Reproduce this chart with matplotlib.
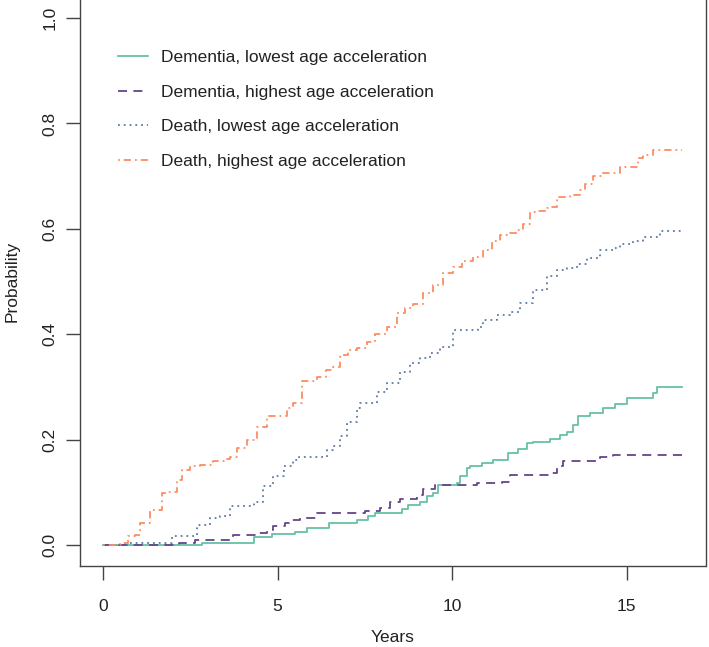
import matplotlib
matplotlib.use("Agg")
import matplotlib.pyplot as plt

#===============================================================================
# data (cumulative probability, step functions)
labels = ["Dementia, lowest age acceleration",
          "Dementia, highest age acceleration",
          "Death, lowest age acceleration",
          "Death, highest age acceleration"]

dem_low_t = [0, 2.83, 4.31, 4.83, 5.50, 5.84, 6.46, 7.27, 7.60, 7.79, 8.56, 8.75,
             9.08, 9.27, 9.46, 9.61, 10.13, 10.23, 10.42, 10.52, 10.85, 11.18, 11.61,
             11.90, 12.14, 12.33, 12.81, 13.09, 13.29, 13.48, 13.62, 13.95, 14.33,
             14.67, 15.0, 15.77, 15.87, 16.6]
dem_low_p = [0, 0.004, 0.015, 0.020, 0.025, 0.032, 0.041, 0.047, 0.054, 0.061, 0.068,
             0.076, 0.082, 0.092, 0.098, 0.114, 0.117, 0.130, 0.146, 0.150, 0.155,
             0.161, 0.174, 0.183, 0.193, 0.196, 0.201, 0.209, 0.215, 0.228, 0.244,
             0.251, 0.259, 0.268, 0.278, 0.289, 0.300, 0.300]

dem_high_t = [0, 2.16, 2.64, 3.73, 4.40, 4.69, 4.88, 5.21, 5.36, 5.64, 6.12, 7.51,
              7.94, 8.22, 8.51, 8.99, 9.18, 9.51, 10.71, 11.42, 11.66, 12.81, 13.0,
              13.19, 14.24, 14.62, 16.6]
dem_high_p = [0, 0.004, 0.010, 0.019, 0.023, 0.028, 0.036, 0.041, 0.047, 0.052, 0.061,
              0.065, 0.070, 0.082, 0.087, 0.095, 0.106, 0.114, 0.117, 0.120, 0.133,
              0.136, 0.149, 0.160, 0.166, 0.171, 0.171]

death_low_t = [0, 0.7, 1.97, 2.68, 3.07, 3.35, 3.64, 4.31, 4.59, 4.88, 5.17, 5.45,
               5.60, 6.41, 6.60, 6.79, 6.98, 7.27, 7.36, 7.84, 8.13, 8.51, 8.80, 9.08,
               9.37, 9.66, 10.04, 10.75, 10.90, 11.28, 11.66, 11.95, 12.33, 12.71, 13.0,
               13.29, 13.57, 13.86, 14.24, 14.62, 14.81, 15.19, 15.48, 15.96, 16.6]
death_low_p = [0, 0.004, 0.016, 0.038, 0.051, 0.054, 0.073, 0.082, 0.111, 0.130, 0.149,
               0.161, 0.166, 0.180, 0.187, 0.206, 0.234, 0.259, 0.269, 0.291, 0.307,
               0.329, 0.345, 0.354, 0.364, 0.376, 0.408, 0.414, 0.427, 0.436, 0.443,
               0.459, 0.484, 0.510, 0.522, 0.525, 0.534, 0.544, 0.560, 0.563, 0.572,
               0.577, 0.584, 0.596, 0.596]

death_high_t = [0, 0.49, 0.72, 0.92, 1.06, 1.35, 1.68, 1.83, 2.11, 2.25, 2.49, 2.78,
                3.15, 3.5, 3.64, 3.83, 4.12, 4.40, 4.69, 5.26, 5.45, 5.69, 6.12, 6.40,
                6.59, 6.79, 7.03, 7.27, 7.56, 7.79, 8.13, 8.42, 8.65, 8.89, 9.18, 9.46,
                9.75, 10.03, 10.28, 10.61, 10.90, 11.14, 11.38, 11.66, 11.85, 12.04,
                12.23, 12.43, 12.71, 12.86, 13.0, 13.38, 13.67, 13.81, 14.05, 14.33,
                14.81, 15.34, 15.48, 15.77, 16.6]
death_high_p = [0, 0.004, 0.016, 0.019, 0.042, 0.066, 0.098, 0.101, 0.123, 0.142, 0.150,
                0.152, 0.159, 0.163, 0.167, 0.184, 0.199, 0.224, 0.244, 0.259, 0.269,
                0.311, 0.319, 0.332, 0.338, 0.360, 0.370, 0.373, 0.386, 0.400, 0.414,
                0.440, 0.449, 0.457, 0.478, 0.493, 0.516, 0.528, 0.538, 0.547, 0.560,
                0.576, 0.588, 0.593, 0.598, 0.610, 0.631, 0.634, 0.639, 0.642, 0.660,
                0.664, 0.674, 0.685, 0.700, 0.705, 0.717, 0.734, 0.740, 0.750, 0.750]

x_ticks = [0, 5, 10, 15]
y_ticks = [0.0, 0.2, 0.4, 0.6, 0.8, 1.0]

#===============================================================================
plt.rcParams["font.family"] = ["Liberation Sans", "DejaVu Sans"]
text_color = "#222222"

fig = plt.figure(figsize=(7.09, 6.47), dpi=100)
ax = fig.add_axes([80 / 709, 81 / 647, 625.5 / 709, 569 / 647])

series = [
    (dem_low_t, dem_low_p, "#66C2A5", "-"),
    (dem_high_t, dem_high_p, "#64458A", (0, (5, 3.5))),
    (death_low_t, death_low_p, "#5A7BA6", (0, (1, 2.2))),
    (death_high_t, death_high_p, "#FC8D62", (0, (1, 2.2, 4, 2.2))),
]
for (t, p, col, ls), lab in zip(series, labels):
    ax.step(t, p, where="post", color=col, linestyle=ls, linewidth=1.3, label=lab)

ax.set_xlim(-0.664, 17.264)
ax.set_ylim(-0.04, 1.04)
ax.set_xticks(x_ticks)
ax.set_xticklabels([str(v) for v in x_ticks])
ax.set_yticks(y_ticks)
ax.set_yticklabels([f"{v:.1f}" for v in y_ticks], rotation=90, va="center")

for sp in ax.spines.values():
    sp.set_color("#444444")
    sp.set_linewidth(1.0)
ax.tick_params(direction="out", length=10, width=1.0, colors="#444444",
               labelcolor=text_color, labelsize=12.5)
ax.tick_params(axis="x", pad=14)
ax.tick_params(axis="y", pad=6)

ax.set_xlabel("Years", fontsize=12.5, color=text_color, labelpad=11.5)
ax.set_ylabel("Probability", fontsize=12.5, color=text_color, labelpad=16.5)

ax.legend(loc="upper left", bbox_to_anchor=(118 / 709, 1 - 50 / 647),
          bbox_transform=fig.transFigure, frameon=False, fontsize=12.5,
          handlelength=1.7, handletextpad=0.8, labelspacing=1.12,
          borderpad=0, borderaxespad=0, labelcolor=text_color)

fig.savefig("out.png", dpi=100)
